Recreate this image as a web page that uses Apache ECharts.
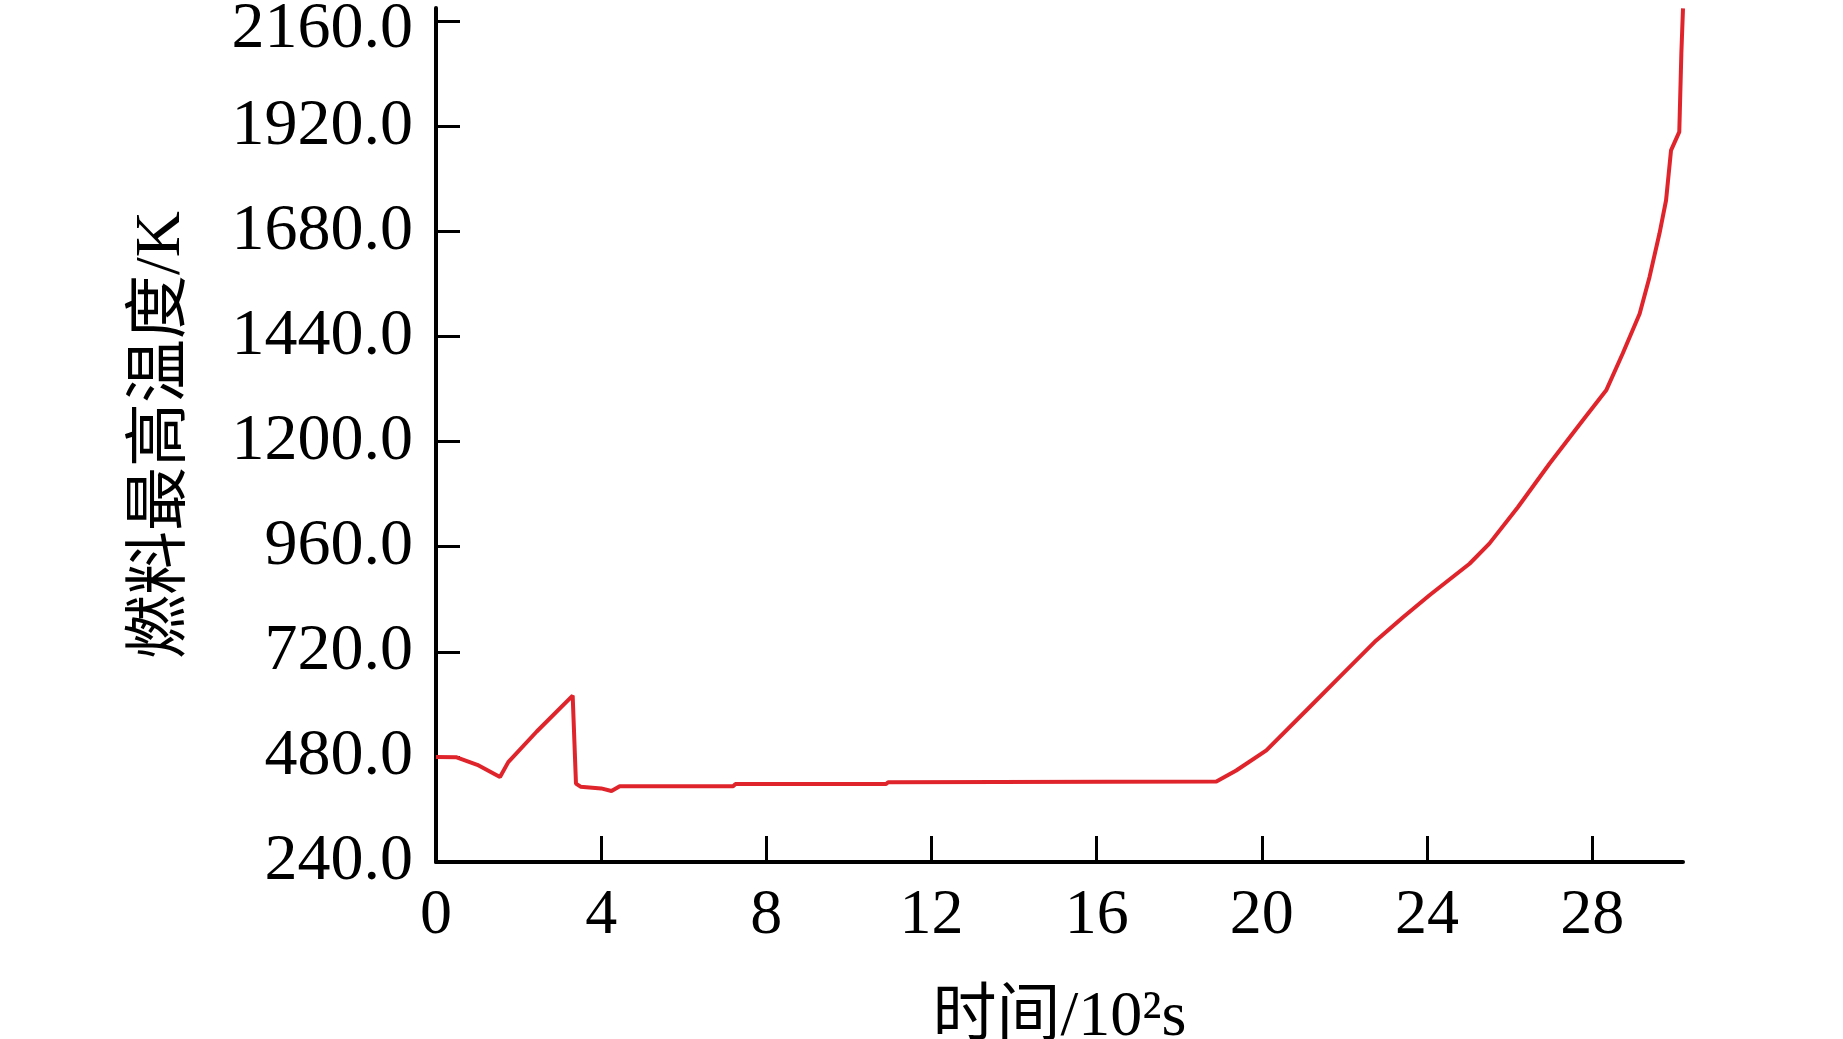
<!DOCTYPE html>
<html>
<head>
<meta charset="utf-8">
<script src="https://cdn.jsdelivr.net/npm/echarts@6/dist/echarts.min.js"></script>
<style>
html,body{margin:0;padding:0;background:#fff;}
#c{width:1843px;height:1039px;}
</style>
</head>
<body>
<div id="c"></div>
<script>
// time in 10^2 s
var timeVals = [0, 0.5, 1.0, 1.55, 1.75, 2.44, 3.31, 3.39, 3.5, 4.0, 4.25, 4.45, 7.2, 7.25, 10.9, 10.95, 18.9,
  19.38, 20.11, 21.16, 21.88, 22.77, 23.42, 24.06, 25.03, 25.51, 26.2, 26.97, 27.77, 28.34, 28.74, 29.15,
  29.39, 29.63, 29.79, 29.91, 30.11, 30.16, 30.2];
// max fuel temperature, K
var tempVals = [480, 479, 462, 434, 468, 538, 620, 419, 412, 408, 402, 413, 413, 418, 418, 422, 424,
  449, 495, 594, 662, 746, 799, 849, 921, 967, 1050, 1150, 1248, 1317, 1401, 1492,
  1576, 1675, 1751, 1865, 1907, 2086, 2189];
var yTicks = [240, 480, 720, 960, 1200, 1440, 1680, 1920, 2160];
var xTicks = [0, 4, 8, 12, 16, 20, 24, 28];
var yName = '燃料最高温度/K';
var xName = '时间/10²s';

var pts = timeVals.map(function (t, i) { return [t, tempVals[i]]; });
var yTop = yTicks[yTicks.length - 1];

var chart = echarts.init(document.getElementById('c'));
var font = "'Liberation Serif', 'Times New Roman', 'Noto Sans CJK SC', serif";
chart.setOption({
  animation: false,
  backgroundColor: '#ffffff',
  grid: { left: 436, right: 160, top: 8, bottom: 177, containLabel: false, outerBoundsMode: 'none' },
  xAxis: {
    type: 'value', min: 0, max: 30.2, interval: 4,
    name: xName, nameLocation: 'middle', nameGap: 124,
    nameTextStyle: { fontFamily: font, fontSize: 64, color: '#000' },
    axisLine: { show: true, onZero: false, lineStyle: { color: '#000', width: 4 } },
    axisTick: { show: true, inside: true, length: 26, customValues: xTicks, lineStyle: { color: '#000', width: 3 } },
    axisLabel: { customValues: xTicks, fontFamily: font, fontSize: 64, color: '#000', margin: 22 },
    splitLine: { show: false }
  },
  yAxis: {
    type: 'value', min: 240, max: 2190, interval: 240,
    name: yName, nameLocation: 'middle', nameGap: 242, nameRotate: 90,
    nameTextStyle: { fontFamily: font, fontSize: 64, color: '#000' },
    axisLine: { show: true, onZero: false, lineStyle: { color: '#000', width: 4 } },
    axisTick: { show: true, inside: true, length: 24, customValues: yTicks, lineStyle: { color: '#000', width: 3 } },
    axisLabel: { customValues: yTicks, fontFamily: font, fontSize: 66, color: '#000', margin: 23,
      formatter: function (v) {
        return v === yTop ? '{t|' + v.toFixed(1) + '}' : v.toFixed(1);
      },
      rich: { t: { fontFamily: font, fontSize: 66, color: '#000', padding: [17, 0, 0, 0] } } },
    splitLine: { show: false }
  },
  series: [{
    type: 'line', data: pts, showSymbol: false, smooth: false,
    lineStyle: { color: '#e0242c', width: 4 }
  }]
});
</script>
</body>
</html>
